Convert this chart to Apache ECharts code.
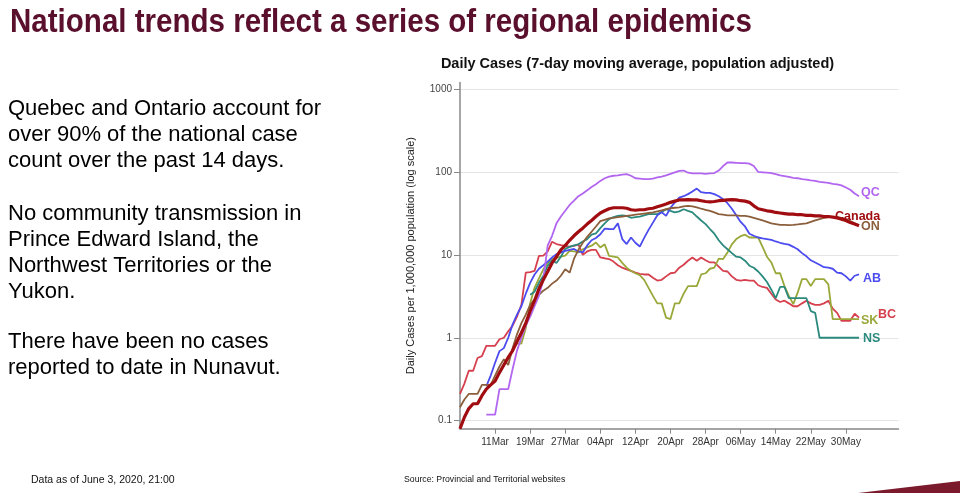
<!DOCTYPE html>
<html><head><meta charset="utf-8">
<script src="https://cdn.jsdelivr.net/npm/echarts@6/dist/echarts.min.js"></script>
<style>html,body{margin:0;padding:0;background:#fff}#c{width:960px;height:493px}</style>
</head><body><div id="c"></div>
<script>
// ---- data ----
const startDay = Date.UTC(2020, 2, 3); // 03 Mar 2020
const dayCount = 101;
const monthNames = ['Jan','Feb','Mar','Apr','May','Jun','Jul','Aug','Sep','Oct','Nov','Dec'];
const categories = [];
for (let i = 0; i < dayCount; i++) {
  const d = new Date(startDay + i * 86400000);
  categories.push(String(d.getUTCDate()).padStart(2, '0') + monthNames[d.getUTCMonth()]);
}
const tickLabels = ['11Mar','19Mar','27Mar','04Apr','12Apr','20Apr','28Apr','06May','14May','22May','30May'];
const yTickValues = [0.1, 1, 10, 100, 1000];

const canadaStart = 0;
const canada = [0.08,0.11,0.14,0.16,0.16,0.2,0.24,0.27,0.3,0.38,0.47,0.58,0.7,0.9,1.15,1.5,2.1,2.8,3.9,5,6.3,8,9.5,11.5,13,15,17,19,21,23.5,26,29,32,34,36,37,37,37,36.5,35,34.5,35,35,36,36.5,38,39.5,41,43,44.5,46,46,46.5,46,46,45,44,43.5,44,45,45.5,46,46.5,46,45,44.5,43,39,36,35,34,33.5,32.5,32,31.5,31,31,30.5,30.5,30,30,29.5,29.5,29,29,28.5,28,27,26,24.5,23.5,22.5];
const qcStart = 6;
const qc = [0.118,0.118,0.118,0.24,0.24,0.24,0.42,0.7,1.0,1.4,1.8,2.4,3.2,5,13,17,24,29,34,40,45,51,55,60,66,71,78,84,88,90,91,93,94,90,84,83,82,82,83,86,88,91,95,99,103,104,98,96,96,96,95,96,97,104,118,130,130,129,128,128,126,118,100,99,98,97,94,91,89,87,85,84,82,81,79,78,76,75,74,72,71,69,65,61,55,51];
const onStart = 0;
const on = [0.145,0.18,0.21,0.21,0.21,0.27,0.27,0.27,0.35,0.45,0.55,0.47,0.75,1.1,1.5,1.9,2.5,2.9,3.3,3.7,4.0,4.5,4.9,5.6,6.7,6.1,9,11.5,14,16.5,19,22,25.5,26.5,27.5,28,28.5,29,29.5,30,30.5,31,31.5,32,32.5,33.5,34.5,35.5,36.5,37,37.5,38.5,39,38.5,37.5,36,35,34,32.5,31,30.5,30,30,30,29.5,29.5,29,28,27,26,25,24,23.5,23,23,22.8,23,23.3,23.7,24,25,26,27,28,28.5,28.5,28.5,28,27,25.5,24,22.8];
const abStart = 6;
const ab = [0.26,0.35,0.5,0.69,0.75,1.0,1.45,1.9,2.4,3.4,4.6,5.8,6.8,7.5,8.3,9.3,10.2,10.7,11.2,11.5,11.8,11,10.7,13,15,16,17.7,20.7,20.5,20.4,24,15.5,13.5,16.2,14,12.6,16,20,24.5,30,32.6,29.5,37,43,49,51,54,58,63,57,56,56,54,51,47,42,36,30,25,22,18,17,16.2,15.8,15.5,15.2,14.5,14,13.6,13.3,12.5,11.7,10.5,9.6,8.6,8.1,7.6,7.1,7.0,6.8,6.1,6.0,5.5,4.9,5.6,5.8];
const nsStart = 16;
const ns = [3.3,3.6,4.6,5.6,7.4,8.5,8.0,9.5,11.8,12.5,13,13.4,14.5,15.5,17.5,18.2,21,24,27,28.5,29.5,30,29.5,28,28.5,29,30,31,31,31,33,35.5,34,32.6,33.5,35.5,34,32.6,29,26,23.5,20.5,18,15,13,11.7,10.5,9.5,9.3,8.5,7.4,7.0,6.3,5.5,4.7,3.8,3.0,4.1,4.1,3.0,3.0,3.0,3.0,3.0,2.1,2.0,1,1,1,1,1,1,1,1,1,1];
const skStart = 13;
const sk = [0.85,0.85,1.3,2.6,4.0,5.2,6.7,8.0,8.9,9.2,9.5,9.8,11.2,11,10.7,11.7,12.3,12.9,14.1,12.3,13.4,9.7,9.5,9.3,8.0,7.0,6.4,6.0,5.7,5.0,4.0,3.2,2.6,2.6,1.75,1.68,2.6,2.6,3.4,4.2,4.2,4.2,5.8,6.0,6.8,7.0,9.0,8.9,10.7,13.4,15.5,16.8,17.5,16.2,16.2,16.2,12.5,9.5,8.1,6.0,6.0,4.2,3.2,2.55,3.5,5.1,5.1,4.2,5.1,5.1,5.1,4.4,1.68,1.68,1.68,1.68,1.68,1.68,1.68];
const bcStart = 0;
const bc = [0.21,0.28,0.4,0.4,0.57,0.6,0.8,0.8,0.8,0.96,1.0,1.2,1.4,1.8,2.5,6.1,6.2,6.4,9.7,9.8,11,14.4,13.5,13.1,12.8,12.6,12.8,13.4,10,11,11.5,11.5,9.3,9.1,8.9,8.3,7.5,7.0,6.7,6.4,6.1,5.9,5.8,5.8,5.3,4.9,5.0,5.5,6.0,6.1,7.0,7.6,8.5,9.3,8.5,9.3,8.6,8.1,8.1,7.2,6.4,6.3,5.5,5.0,4.9,5.0,4.9,4.9,4.3,4.1,4.0,3.4,2.9,2.7,2.8,2.6,2.4,2.4,2.6,2.8,2.6,2.5,2.5,2.6,2.8,2.25,2.0,1.6,1.6,1.6,1.95,1.75];

// ---- build ----
function pad(start, vals) { return new Array(start).fill('-').concat(vals); }
const FONT = '"Liberation Sans", Arial, sans-serif';
function mk(name, color, start, vals, width, z, offset) {
  return {
    type: 'line', name: name, data: pad(start, vals),
    symbol: 'none', showSymbol: false, z: z,
    lineStyle: { color: color, width: width }, itemStyle: { color: color },
    emphasis: { disabled: true },
    endLabel: { show: true, formatter: function () { return name; }, color: color,
      fontWeight: 'bold', fontSize: 12.5, fontFamily: FONT, offset: offset, distance: 2 }
  };
}

const tickFn = function (i, v) { return tickLabels.indexOf(v) >= 0; };
const chart = echarts.init(document.getElementById('c'));
const leftLines = [
  ['Quebec and Ontario account for', 109], ['over 90% of the national case', 135], ['count over the past 14 days.', 161],
  ['No community transmission in', 214], ['Prince Edward Island, the', 240], ['Northwest Territories or the', 266], ['Yukon.', 292],
  ['There have been no cases', 342], ['reported to date in Nunavut.', 368]
];
function txt(x, y, text, font, fill, align) {
  return { type: 'text', x: x, y: y, style: { text: text, font: font, fill: fill,
    textAlign: align, textVerticalAlign: 'middle', align: align, verticalAlign: 'middle' } };
}
const titleEl = txt(10, 23, 'National trends reflect a series of regional epidemics',
  'bold 33px "Liberation Sans", Arial', '#5a0f2c', 'left');
titleEl.scaleX = 0.895;
const graphics = [
  titleEl,
  txt(637.5, 64, 'Daily Cases (7-day moving average, population adjusted)', 'bold 14.5px ' + FONT, '#111', 'center'),
  txt(31, 480, 'Data as of June 3, 2020, 21:00', '10.5px ' + FONT, '#111', 'left'),
  txt(404, 480, 'Source: Provincial and Territorial websites', '8.7px ' + FONT, '#111', 'left'),
  { type: 'polygon', shape: { points: [[858, 493], [960, 481], [960, 493]] }, style: { fill: '#7a1a2c' } }
];
leftLines.forEach(function (l) { graphics.push(txt(8, l[1], l[0], '22px ' + FONT, '#000', 'left')); });

chart.setOption({
  animation: false,
  backgroundColor: '#fff',
  textStyle: { fontFamily: FONT },
  grid: { left: 460, top: 82.5, right: 61.5, bottom: 64.3, containLabel: false },
  xAxis: {
    type: 'category', data: categories, boundaryGap: false,
    axisLine: { lineStyle: { color: '#888', width: 1.5 } },
    axisTick: { interval: tickFn, length: 5, lineStyle: { color: '#888', width: 1 } },
    axisLabel: { interval: tickFn, fontSize: 10, color: '#333', margin: 9 },
    splitLine: { show: false }
  },
  yAxis: {
    type: 'log', logBase: 10, min: 0.08, max: 1200,
    name: 'Daily Cases per 1,000,000 population (log scale)', nameLocation: 'middle', nameGap: 44,
    nameTextStyle: { fontSize: 11, color: '#222' },
    axisLine: { show: true, lineStyle: { color: '#888', width: 1.5 } },
    axisTick: { show: true, length: 6, customValues: yTickValues, lineStyle: { color: '#888' } },
    axisLabel: { customValues: yTickValues, fontSize: 10, color: '#444', margin: 8,
      formatter: function (v) { return String(v); } },
    splitLine: { show: true, lineStyle: { color: '#e4e4e4', width: 1 } }
  },
  series: [
    mk('BC', '#d6404e', bcStart, bc, 1.8, 2, [17, -3]),
    mk('SK', '#9aa83a', skStart, sk, 1.8, 2, [0, 1]),
    mk('NS', '#2b8a7e', nsStart, ns, 1.8, 2, [2, 1]),
    mk('AB', '#4b4bf0', abStart, ab, 1.8, 2, [2, 4]),
    mk('ON', '#8b5e3c', onStart, on, 1.8, 3, [0, 1]),
    mk('QC', '#b266f0', qcStart, qc, 1.8, 3, [0, -4]),
    mk('Canada', '#a00c10', canadaStart, canada, 3.2, 5, [-26, -9])
  ],
  graphic: graphics
});
</script></body></html>
